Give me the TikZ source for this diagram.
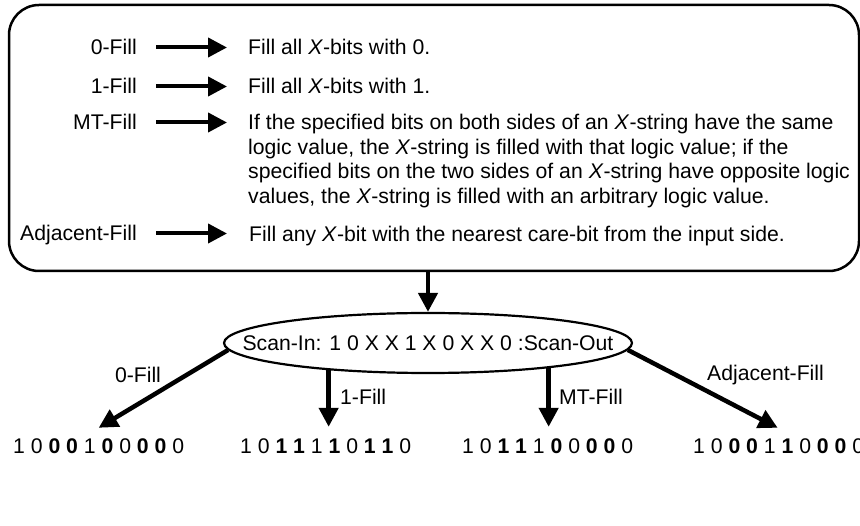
\documentclass[tikz,border=0pt]{standalone}
\usepackage{fontspec}
\setmainfont{Liberation Sans}
\usetikzlibrary{arrows.meta,shapes.geometric,backgrounds}
\begin{document}
\begin{tikzpicture}[x=1pt,y=-1pt,
  txt/.style={inner sep=0pt,text height=15pt,text depth=0pt,font=\fontsize{21.2}{24.5}\selectfont},
  arr/.style={line width=4pt,-{Triangle[length=19pt,width=19pt]}},
  barr/.style={line width=4.5pt,-{Triangle[length=19pt,width=19pt]}}]
\useasboundingbox (0,0) rectangle (860,526);
\node[draw,line width=2.5pt,rounded corners=30pt,minimum width=850pt,minimum height=266pt,inner sep=0pt] (box) at (434,138) {};
% left labels
\node[txt,anchor=base east] (l0) at (137,55) {0-Fill};
\node[txt,anchor=base east] (l1) at (137,94) {1-Fill};
\node[txt,anchor=base east] (lm) at (137,130) {MT-Fill};
\node[txt,anchor=base east] (la) at (137,241) {Adjacent-Fill};
% descriptions
\node[txt,anchor=base west] (d0) at (248,55) {Fill all \textit{X}-bits with 0.};
\node[txt,anchor=base west] (d1) at (248,94) {Fill all \textit{X}-bits with 1.};
\node[txt,anchor=base west] (dm1) at (248,130) {If the specified bits on both sides of an \textit{X}-string have the same};
\node[txt,anchor=base west] (dm2) at (248,154.5) {logic value, the \textit{X}-string is filled with that logic value; if the};
\node[txt,anchor=base west] (dm3) at (248,179) {specified bits on the two sides of an \textit{X}-string have opposite logic};
\node[txt,anchor=base west] (dm4) at (248,203.5) {values, the \textit{X}-string is filled with an arbitrary logic value.};
\node[txt,anchor=base west] (da) at (249,242) {Fill any \textit{X}-bit with the nearest care-bit from the input side.};
% box arrows
\draw[arr,shorten <=19pt,shorten >=21pt] (l0.east) -- (l0.east -| d0.west);
\draw[arr,shorten <=19pt,shorten >=21pt] (l1.east) -- (l1.east -| d1.west);
\draw[arr,shorten <=19pt,shorten >=21pt] (lm.east) -- (lm.east -| dm1.west);
\draw[arr,shorten <=19pt,shorten >=22pt] (la.east) -- (la.east -| da.west);
% scan ellipse
\node[ellipse,draw,line width=2.2pt,fill=white,minimum width=408pt,minimum height=60pt,inner sep=0pt] (scan) at (428,343) {};
\node[txt] (scantxt) at (scan.center) {Scan-In: 1 0 X X 1 X 0 X X 0 :Scan-Out};
\draw[barr] (box.south -| scan.north) -- (scan.north);
% bit strings
\node[txt,anchor=base west] (b0) at (13,454) {1 0 \textbf{0} \textbf{0} 1 \textbf{0} 0 \textbf{0} \textbf{0} 0};
\node[txt,anchor=base west] (b1) at (240,454) {1 0 \textbf{1} \textbf{1} 1 \textbf{1} 0 \textbf{1} \textbf{1} 0};
\node[txt,anchor=base west] (b2) at (462,454) {1 0 \textbf{1} \textbf{1} 1 \textbf{0} 0 \textbf{0} \textbf{0} 0};
\node[txt,anchor=base west] (b3) at (693,454) {1 0 \textbf{0} \textbf{0} 1 \textbf{1} 0 \textbf{0} \textbf{0} 0};
\coordinate (t0) at ([yshift=11pt]b0.north);
\coordinate (t1) at ([xshift=3pt,yshift=12pt]b1.north);
\coordinate (t2) at ([xshift=1pt,yshift=12pt]b2.north);
\coordinate (t3) at ([xshift=-1pt,yshift=11pt]b3.north);
\draw[barr] (scan.182) -- (t0);
\draw[barr] (scan.358) -- (t3);
\begin{scope}[on background layer]
\draw[barr] (t1 |- scan.center) -- (t1);
\draw[barr] (t2 |- scan.center) -- (t2);
\end{scope}
% arrow labels
\node[txt] (f0) at (138,375) {0-Fill};
\node[txt,anchor=west] (f1) at (340,397) {1-Fill};
\node[txt,anchor=west] (fm) at (559,397) {MT-Fill};
\node[txt,anchor=west] (fa) at (707,373) {Adjacent-Fill};
\end{tikzpicture}
\end{document}
